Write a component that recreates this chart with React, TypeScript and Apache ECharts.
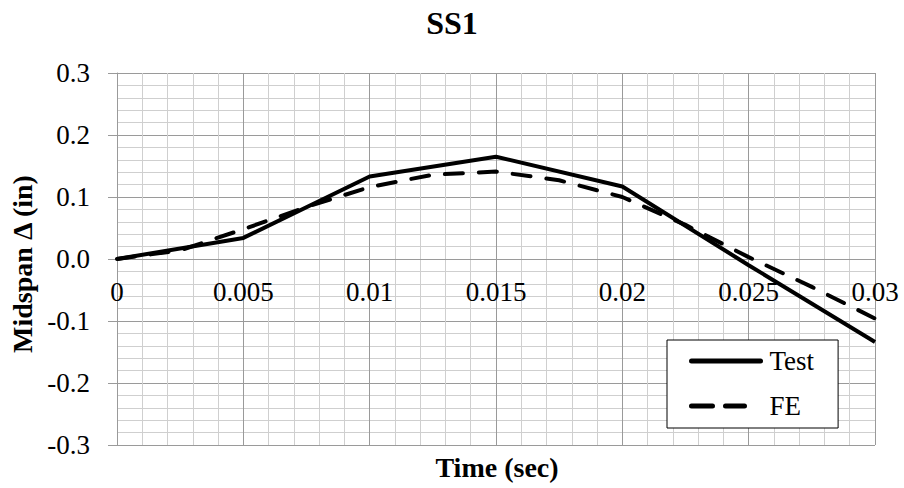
import React, { useEffect, useRef } from "react";
import * as echarts from "echarts";

const titleText = "SS1";
const xAxisName = "Time (sec)";
const yAxisName = "Midspan Δ (in)";
const seriesNames = ["Test", "FE"];

const testX = [0, 0.005, 0.01, 0.015, 0.02, 0.025, 0.03];
const testY = [0, 0.034, 0.133, 0.165, 0.117, -0.01, -0.134];

const feX = [0, 0.0025, 0.005, 0.0075, 0.01, 0.0125, 0.015, 0.0175, 0.02, 0.0225, 0.025, 0.0275, 0.03];
const feY = [0, 0.014, 0.048, 0.084, 0.116, 0.136, 0.141, 0.127, 0.1, 0.055, 0.003, -0.045, -0.096];

const FONT = "'Liberation Serif', 'Times New Roman', serif";

export default function App() {
  const ref = useRef<HTMLDivElement>(null);
  useEffect(() => {
    document.body.style.margin = "0";
    if (!ref.current) return;
    const chart = echarts.init(ref.current, null, { renderer: "svg" });
    const major = "#9a9a9a";
    const minor = "#cfcfcf";
    const gridTop = 73;
    const gridBottom = 43;
    const gridH = 488 - gridTop - gridBottom;
    chart.setOption({
      animation: false,
      backgroundColor: "#ffffff",
      textStyle: { fontFamily: FONT },
      title: {
        text: titleText,
        left: "center",
        top: 2,
        textStyle: { fontFamily: FONT, fontSize: 32, fontWeight: "bold", color: "#000" },
      },
      grid: { left: 117, right: 29, top: gridTop, bottom: gridBottom, containLabel: false },
      xAxis: {
        type: "value",
        min: 0,
        max: 0.03,
        interval: 0.005,
        offset: -gridH / 2,
        axisLine: { show: true, onZero: false, lineStyle: { color: major, width: 1 } },
        axisTick: { show: false },
        axisLabel: {
          margin: 19,
          fontFamily: FONT,
          fontSize: 27,
          color: "#000",
          formatter: (v: number) => String(Number(v.toFixed(4))),
        },
        splitLine: { show: true, lineStyle: { color: major, width: 1 } },
        minorTick: { show: false, splitNumber: 5 },
        minorSplitLine: { show: true, lineStyle: { color: minor, width: 1 } },
      },
      yAxis: {
        type: "value",
        min: -0.3,
        max: 0.3,
        interval: 0.1,
        axisLine: { show: true, onZero: false, lineStyle: { color: major, width: 1 } },
        axisTick: { show: true, inside: false, length: 9, lineStyle: { color: major } },
        axisLabel: {
          margin: 27,
          fontFamily: FONT,
          fontSize: 27,
          color: "#000",
          formatter: (v: number) => v.toFixed(1),
        },
        splitLine: { show: true, lineStyle: { color: major, width: 1 } },
        minorTick: { show: false, splitNumber: 5 },
        minorSplitLine: { show: true, lineStyle: { color: minor, width: 1 } },
      },
      legend: {
        orient: "vertical",
        left: 667,
        top: 340,
        padding: [6, 24, 7, 22],
        itemGap: 15,
        itemWidth: 69,
        itemHeight: 14,
        backgroundColor: "#ffffff",
        borderColor: "#000000",
        borderWidth: 1,
        borderRadius: 0,
        itemStyle: { opacity: 0 },
        lineStyle: { width: 5 },
        textStyle: { fontFamily: FONT, fontSize: 27, color: "#000", lineHeight: 30, padding: [0, 0, 0, 4] },
        data: [
          { name: seriesNames[0], lineStyle: { width: 5, type: "solid", cap: "round" } },
          { name: seriesNames[1], lineStyle: { width: 5, type: [21, 13, 19, 100], cap: "round" } },
        ],
      },
      graphic: [
        {
          type: "text",
          x: 497,
          y: 467,
          style: {
            text: xAxisName,
            fontFamily: FONT,
            fontSize: 28,
            fontWeight: "bold",
            fill: "#000",
            textAlign: "center",
            textVerticalAlign: "middle",
          },
        },
        {
          type: "text",
          x: 22,
          y: 264,
          rotation: Math.PI / 2,
          style: {
            text: yAxisName,
            fontFamily: FONT,
            fontSize: 28,
            fontWeight: "bold",
            fill: "#000",
            textAlign: "center",
            textVerticalAlign: "middle",
          },
        },
      ],
      series: [
        {
          name: seriesNames[0],
          type: "line",
          data: testX.map((x, i) => [x, testY[i]]),
          symbol: "none",
          lineStyle: { color: "#000", width: 4, type: "solid" },
          itemStyle: { color: "#000" },
        },
        {
          name: seriesNames[1],
          type: "line",
          data: feX.map((x, i) => [x, feY[i]]),
          symbol: "none",
          lineStyle: { color: "#000", width: 4, type: [18, 16], cap: "round" },
          itemStyle: { color: "#000" },
        },
      ],
    });
    return () => chart.dispose();
  }, []);
  return <div ref={ref} style={{ width: 904, height: 488 }} />;
}
